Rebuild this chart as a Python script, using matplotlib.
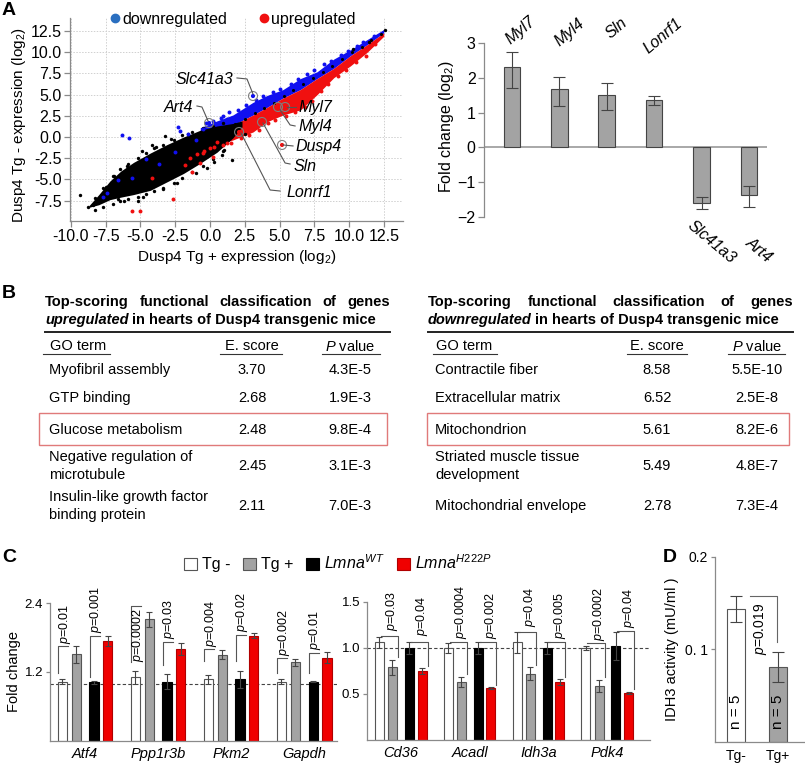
import matplotlib
matplotlib.use("Agg")
import matplotlib.pyplot as plt
import numpy as np
from matplotlib.lines import Line2D
from matplotlib.patches import Patch, Rectangle

plt.rcParams["font.family"] = ["Liberation Sans", "DejaVu Sans"]
plt.rcParams["mathtext.fontset"] = "custom"
plt.rcParams["mathtext.rm"] = "Liberation Sans"
plt.rcParams["mathtext.it"] = "Liberation Sans:italic"
plt.rcParams["mathtext.bf"] = "Liberation Sans:bold"

W, H = 805, 765
BLUE = "#1010f0"
RED = "#f01010"
GREY_AX = "#8a8a8a"

# ---------------- panel A, scatter ----------------
cloud_x = [-8.7, -8.0, -7.2, -6.4, -5.5, -4.3, -3.1, -1.9, -0.7, 0.5, 1.65, 2.3]
cloud_hi = [-8.1, -6.8, -5.2, -4.0, -3.0, -1.9, -0.9, 0.0, 0.8, 1.3, 1.6, 1.9]
cloud_lo = [-8.3, -8.0, -7.4, -7.1, -6.8, -6.3, -5.3, -4.3, -3.1, -1.8, -0.1, 1.2]

band_x = [-0.7, 0.5, 1.65, 3.1, 4.1, 5.25, 6.5, 7.7, 8.9, 10.1, 11.3, 12.5]
blue_hi = [1.1, 1.9, 2.6, 4.1, 4.9, 5.6, 6.9, 7.7, 9.2, 10.3, 11.5, 12.7]
band_mid = [0.0, 0.7, 1.4, 2.6, 3.5, 4.6, 5.6, 6.9, 8.1, 9.6, 10.9, 12.3]
red_lo = [-1.5, -0.9, -0.35, 0.6, 1.8, 2.6, 3.2, 5.0, 7.0, 8.4, 10.0, 11.9]

mid_x = [1.8, 2.5, 3.2, 3.9, 4.6, 5.3, 6.0, 6.7, 7.4, 8.1, 8.8, 9.5, 10.2, 10.9, 11.6, 12.3]
mid_y = [1.5, 2.1, 2.8, 3.4, 4.0, 4.8, 5.5, 6.2, 7.0, 7.7, 8.4, 9.2, 10.0, 10.6, 11.5, 12.2]

# speckles along the edges of the dense cloud
edge_x = [-8.3, -7.7, -7.0, -6.5, -5.9, -5.2, -4.6, -4.0, -3.4, -2.6, -2.0, -1.3, -0.5, 0.2, 0.9]
edge_hi = [-7.2, -6.0, -4.6, -3.8, -3.2, -2.5, -1.9, -1.3, -0.9, -0.4, 0.2, 0.6, 1.1, 1.3, 1.6]
edge_lo = [-8.6, -8.3, -7.9, -7.6, -7.3, -7.1, -6.7, -6.4, -6.0, -5.4, -4.9, -4.1, -3.4, -2.6, -1.6]

blk_x = [-9.35, -8.8, -8.45, -8.1, -7.9, -7.5, -6.9, -6.0, -4.9, -4.2, -3.25, -2.8, -1.6,
         -6.2, -4.8, -3.4, -2.4, -1.0, 0.3, 1.0, -0.2, -5.2, 1.6, 0.86, 2.5, -7.6, -6.6,
         -3.9, 12.6, 10.3, 11.4]
blk_y = [-6.85, -8.3, -8.0, -7.6, -7.3, -5.9, -4.6, -3.4, -1.6, -0.9, 0.1, -0.2, 0.3,
         -7.5, -7.1, -6.2, -5.4, -4.2, -2.9, -1.5, -3.7, -7.6, -2.7, -2.1, 0.3, -6.9, -7.3,
         -1.2, 12.6, 10.4, 11.2]

blu_x = [-6.3, -5.8, -2.3, -2.15, -6.6, -5.6, -3.65, -2.5, -7.7, -7.4, -1.0, -0.5, 0.3,
         0.8, 1.2, -4.6, -1.6,
         -0.3, 0.2, 0.9, 1.4, 2.0, 2.6, 3.3, 3.8, 4.5, 5.0, 5.8, 6.3, 7.0, 7.5, 8.2, 8.7,
         9.4, 9.9, 10.6, 11.0, 11.8]
blu_y = [0.25, -0.1, 1.2, 0.7, -5.1, -4.85, -3.2, -1.8, -7.1, -6.6, -0.3, 0.9, 1.6,
         2.3, 2.1, -2.6, 0.4,
         1.6, 1.9, 2.5, 2.9, 3.2, 3.8, 4.4, 4.8, 5.3, 5.7, 6.3, 6.9, 7.4, 7.9, 8.6, 9.0,
         9.7, 10.1, 10.8, 11.2, 11.9]

red_x = [-2.66, -5.6, -5.04, -4.17, -1.44, -1.3, -0.72, 0.22, -0.5, 0.0, 0.5, 1.2, 2.16,
         3.38, 3.1, -0.9, -1.8,
         -0.4, 0.3, 0.9, 1.5, 2.2, 2.8, 3.5, 4.2, 4.7, 5.5, 6.1, 6.8, 7.3, 8.0, 8.5, 9.2,
         9.8, 10.5, 11.2, 11.9]
red_y = [-7.32, -8.74, -8.74, -4.84, -2.48, -4.13, -3.07, -2.36, -1.9, -1.3, -0.59, -0.71,
         0.24, 1.18, 1.77, -2.0, -3.3,
         -1.6, -1.2, -0.9, -0.7, -0.1, 0.2, 0.8, 1.6, 2.0, 2.5, 2.9, 3.5, 4.3, 5.4, 6.2, 7.2,
         7.9, 8.8, 9.6, 11.0]

ann_label = ["Slc41a3", "Art4", "Myl7", "Myl4", "Dusp4", "Sln", "Lonrf1"]
ann_gx = [3.09, -0.07, 5.4, 4.89, 5.18, 3.74, 2.09]
ann_gy = [4.84, 1.65, 3.54, 3.54, -0.94, 1.77, 0.59]
ann_down = [True, True, False, False, False, False, False]

# label anchor and leader path (layout only)
ann_tx = [1.65, -1.22, 6.33, 6.33, 6.12, 6.04, 5.47]
ann_ty = [6.73, 3.54, 3.54, 1.18, -1.18, -3.54, -6.61]
ann_ha = ["right", "right", "left", "left", "left", "left", "left"]
ann_path = [
    [(1.94, 6.97), (2.66, 6.85), (3.09, 5.08)],
    [(-0.94, 3.66), (-0.58, 3.54), (-0.14, 1.89)],
    [(5.54, 3.54), (6.2, 3.54)],
    [(5.04, 3.19), (5.76, 1.42), (6.12, 1.3)],
    [(5.25, -0.94), (5.97, -1.06)],
    [(3.81, 1.65), (5.4, -3.07), (5.76, -3.19)],
    [(2.23, 0.47), (4.32, -6.26), (5.04, -6.38)],
]

# ---------------- panel A, qPCR bars ----------------
a_genes = ["Myl7", "Myl4", "Sln", "Lonrf1", "Slc41a3", "Art4"]
a_fc = [2.32, 1.68, 1.52, 1.36, -1.60, -1.38]
a_lo = [1.72, 1.18, 1.08, 1.22, -1.77, -1.72]
a_hi = [2.74, 2.03, 1.84, 1.48, -1.43, -1.10]
a_lab_dx = [0.02, 0.04, 0.13, -0.08, -0.15, 0.08]
a_lab_y = [2.89, 2.83, 3.06, 2.63, -2.02, -2.5]

# ---------------- panel B tables ----------------
up_terms = ["Myofibril assembly", "GTP binding", "Glucose metabolism",
            "Negative regulation of\nmicrotubule", "Insulin-like growth factor\nbinding protein"]
up_escore = ["3.70", "2.68", "2.48", "2.45", "2.11"]
up_pval = ["4.3E-5", "1.9E-3", "9.8E-4", "3.1E-3", "7.0E-3"]
down_terms = ["Contractile fiber", "Extracellular matrix", "Mitochondrion",
              "Striated muscle tissue\ndevelopment", "Mitochondrial envelope"]
down_escore = ["8.58", "6.52", "5.61", "5.49", "2.78"]
down_pval = ["5.5E-10", "2.5E-8", "8.2E-6", "4.8E-7", "7.3E-4"]

# ---------------- panel C ----------------
cl_genes = ["Atf4", "Ppp1r3b", "Pkm2", "Gapdh"]
cl_tgneg = [1.03, 1.11, 1.07, 1.03]
cl_tgneg_err = [0.04, 0.11, 0.07, 0.04]
cl_tgpos = [1.51, 2.12, 1.50, 1.37]
cl_tgpos_err = [0.15, 0.13, 0.08, 0.06]
cl_wt = [1.02, 1.03, 1.07, 1.03]
cl_wt_err = [0.03, 0.13, 0.15, 0.01]
cl_h222p = [1.74, 1.60, 1.83, 1.45]
cl_h222p_err = [0.09, 0.10, 0.04, 0.09]
cl_p_tg = ["0.01", "0.0002", "0.004", "0.002"]
cl_p_lmna = ["0.001", "0.03", "0.02", "0.01"]

cr_genes = ["Cd36", "Acadl", "Idh3a", "Pdk4"]
cr_tgneg = [1.065, 1.00, 1.06, 1.00]
cr_tgneg_err = [0.06, 0.05, 0.11, 0.02]
cr_tgpos = [0.79, 0.63, 0.72, 0.59]
cr_tgpos_err = [0.08, 0.05, 0.07, 0.065]
cr_wt = [1.00, 1.00, 1.00, 1.02]
cr_wt_err = [0.07, 0.06, 0.06, 0.15]
cr_h222p = [0.75, 0.565, 0.63, 0.51]
cr_h222p_err = [0.03, 0.015, 0.03, 0.01]
cr_p_tg = ["0.03", "0.0004", "0.04", "0.0002"]
cr_p_lmna = ["0.04", "0.002", "0.005", "0.04"]

# bracket heights (top, lower end, text start) - layout
cl_br_tg = [(1.65, 1.18, 1.69), (2.35, 1.37, 1.37), (1.60, 1.39, 1.64), (1.44, 1.18, 1.48)]
cl_br_lmna = [(1.83, 1.11, 1.88), (1.72, 1.32, 1.77), (1.84, 1.40, 1.90), (1.53, 1.18, 1.58)]
cr_br_tg = [(1.13, 0.90, 1.18), (1.06, 0.72, 1.10), (1.17, 0.82, 1.23), (1.05, 0.68, 1.08)]
cr_br_lmna = [(1.07, 0.80, 1.13), (1.07, 0.60, 1.10), (1.07, 0.69, 1.10), (1.18, 0.55, 1.22)]

# ---------------- panel D ----------------
d_groups = ["Tg-", "Tg+"]
d_vals = [0.143, 0.081]
d_err = [0.014, 0.016]
d_n = ["n = 5", "n = 5"]


def px_axes(fig, left, top, right, bottom):
    ax = fig.add_axes([left / W, 1 - bottom / H, (right - left) / W, (bottom - top) / H])
    ax.set_facecolor("none")
    return ax


def grey_spines(ax):
    for s in ["top", "right"]:
        ax.spines[s].set_visible(False)
    for s in ["left", "bottom"]:
        ax.spines[s].set_color(GREY_AX)
        ax.spines[s].set_linewidth(0.9)
    ax.tick_params(color=GREY_AX, width=0.9)


def pv(s):
    return r"$p$=" + s


fig = plt.figure(figsize=(W / 100, H / 100), dpi=100)
renderer = fig.canvas.get_renderer()

# overlay in pixel coordinates for tables and panel letters
ov = fig.add_axes([0, 0, 1, 1])
ov.set_xlim(0, W)
ov.set_ylim(H, 0)
ov.axis("off")
ov.patch.set_visible(False)

for letter, x, y in [("A", 9, 10), ("B", 9, 293), ("C", 9, 557), ("D", 670, 557)]:
    ov.text(x, y, letter, fontsize=14, fontweight="bold", ha="center", va="center")

# ---- A scatter ----
ax = px_axes(fig, 70, 18, 403, 221)
ax.set_xlim(-10.07, 13.88)
ax.set_ylim(-9.92, 14.05)
ax.set_axisbelow(True)
ax.grid(True, ls=(0, (1.5, 1.5)), color="#d0d0d0", lw=0.7)
ax.fill_between(band_x, band_mid, blue_hi, color=BLUE, lw=0, zorder=2)
ax.fill_between(band_x, red_lo, band_mid, color=RED, lw=0, zorder=2)
ax.fill_between(cloud_x, cloud_lo, cloud_hi, color="black", lw=0, zorder=3)
ax.scatter(edge_x, edge_hi, s=6, color="black", lw=0, zorder=3)
ax.scatter(edge_x, edge_lo, s=6, color="black", lw=0, zorder=3)
ax.scatter(mid_x, mid_y, s=5, color="black", lw=0, zorder=3)
ax.scatter(blk_x, blk_y, s=6, color="black", lw=0, zorder=3)
ax.scatter(blu_x, blu_y, s=8, color=BLUE, lw=0, zorder=4)
ax.scatter(red_x, red_y, s=8, color=RED, lw=0, zorder=4)
ax.scatter(ann_gx, ann_gy, s=9, color=[BLUE if d else RED for d in ann_down], lw=0, zorder=5)
ax.scatter(ann_gx, ann_gy, s=42, facecolors="none", edgecolors="#808080", lw=0.8, zorder=5)
for lab, tx, ty, ha, path in zip(ann_label, ann_tx, ann_ty, ann_ha, ann_path):
    px, py = zip(*path)
    ax.plot(px, py, color="#555555", lw=0.8, zorder=5)
    ax.text(tx, ty, lab, ha=ha, va="center", fontsize=11.5, style="italic", zorder=6)
ax.set_xticks(np.arange(-10, 12.6, 2.5))
ax.set_yticks(np.arange(-7.5, 12.6, 2.5))
ax.set_xticklabels([f"{v:.1f}" for v in np.arange(-10, 12.6, 2.5)])
ax.set_yticklabels([f"{v:.1f}" for v in np.arange(-7.5, 12.6, 2.5)])
grey_spines(ax)
ax.tick_params(labelsize=11.5, length=4, pad=2)
ax.set_xlabel("Dusp4 Tg + expression (log$_2$)", fontsize=11)
ax.set_ylabel("Dusp4 Tg - expression (log$_2$)", fontsize=11)
ax.xaxis.set_label_coords(0.5, -0.135)
ax.yaxis.set_label_coords(-0.125, 0.47)
ax.legend(
    handles=[Line2D([], [], marker="o", ls="", color="#2a6fc0", ms=6),
             Line2D([], [], marker="o", ls="", color=RED, ms=6)],
    labels=["downregulated", "upregulated"], ncol=2, loc="upper left",
    bbox_to_anchor=(0.12, 1.03), frameon=False, fontsize=11.5, handlelength=0.6,
    handletextpad=0.15, columnspacing=2.0, borderpad=0, borderaxespad=0,
)

# ---- A bars ----
ax = px_axes(fig, 484, 43, 767, 217)
xa = np.arange(len(a_genes))
ax.bar(xa, a_fc, 0.35, color="#a3a3a3", edgecolor="#444444", lw=0.8, zorder=2,
       yerr=[np.array(a_fc) - np.array(a_lo), np.array(a_hi) - np.array(a_fc)],
       error_kw=dict(ecolor="#444444", elinewidth=0.8, capsize=4, capthick=0.8))
ax.axhline(0, color="#9a9a9a", lw=1.2, zorder=1)
ax.set_xlim(-0.59, 5.38)
ax.set_ylim(-2, 3)
ax.set_yticks([-2, -1, 0, 1, 2, 3])
ax.set_xticks([])
grey_spines(ax)
ax.spines["bottom"].set_visible(False)
ax.tick_params(labelsize=11.5, length=4, pad=2)
ax.set_ylabel("Fold change (log$_2$)", fontsize=11.5)
ax.yaxis.set_label_coords(-0.1, 0.52)
for i, g in enumerate(a_genes):
    if a_fc[i] > 0:
        ax.text(i + a_lab_dx[i], a_lab_y[i], g, rotation=40, ha="left", va="bottom",
                rotation_mode="anchor", style="italic", fontsize=11.5, clip_on=False)
    else:
        ax.text(i + a_lab_dx[i], a_lab_y[i], g, rotation=-40, ha="left", va="top",
                rotation_mode="anchor", style="italic", fontsize=11.5, clip_on=False)


# ---- B tables ----
def text_w(t):
    return t.get_window_extent(renderer=renderer).width


def draw_table(x0, x1, first, terms, escores, pvals, cols, under, box):
    y1, y2 = 302, 320
    words = ["Top-scoring", "functional", "classification", "of", "genes"]
    objs = [ov.text(0, y1, w, fontsize=10.5, fontweight="bold", va="center", ha="left")
            for w in words]
    widths = [text_w(t) for t in objs]
    gap = (x1 - x0 - sum(widths)) / (len(words) - 1)
    x = x0
    for t, w in zip(objs, widths):
        t.set_x(x)
        x += w + gap
    t = ov.text(x0, y2, first, fontsize=10.5, fontweight="bold", style="italic",
                va="center", ha="left")
    ov.text(x0 + text_w(t) + 3.5, y2, "in hearts of Dusp4 transgenic mice", fontsize=10.5,
            fontweight="bold", va="center", ha="left")
    ov.plot([x0, x1], [332, 332], color="#222222", lw=1.4)
    ov.text(cols[0] + 1, 346, "GO term", fontsize=10.5, va="center", ha="left")
    ov.text(cols[1], 346, "E. score", fontsize=10.5, va="center", ha="center")
    ov.text(cols[2], 346, "$P$ value", fontsize=10.5, va="center", ha="center")
    for a, b in under:
        ov.plot([a, b], [354, 354], color="#333333", lw=0.8)
    for yy, term, e, p in zip([370, 398, 430, 466, 506], terms, escores, pvals):
        ov.text(cols[0], yy, term, fontsize=10.5, va="center", ha="left", linespacing=1.3)
        ov.text(cols[1], yy, e, fontsize=10.5, va="center", ha="center")
        ov.text(cols[2], yy, p, fontsize=10.5, va="center", ha="center")
    ov.add_patch(Rectangle((box[0], 413), box[1] - box[0], 32, fill=False,
                           edgecolor="#e07a7a", lw=1.0))


draw_table(45, 390, "upregulated", up_terms, up_escore, up_pval,
           [49, 252, 350], [(43, 110), (220, 282), (322, 380)], (39, 387))
draw_table(428, 793, "downregulated", down_terms, down_escore,
           down_pval, [435, 657, 757], [(433, 497), (627, 687), (728, 785)], (427, 789))

# ---- C ----
OFFS = [-0.31, -0.12, 0.125, 0.31]
BW = 0.13
C_FACE = ["white", "#a3a3a3", "black", "#f00000"]
C_EDGE = ["#555555", "#555555", "black", "#b00000"]


def draw_c(ax, genes, series, errs, p_tg, p_lmna, br_tg, br_lmna, style):
    x = np.arange(len(genes))
    for k in range(4):
        ax.bar(x + OFFS[k], series[k], BW, color=C_FACE[k], edgecolor=C_EDGE[k], lw=0.8,
               zorder=2, yerr=errs[k],
               error_kw=dict(ecolor="#444444", elinewidth=0.8, capsize=2.5, capthick=0.8,
                             zorder=3))
    ax.axhline(1.0, color="#444444", lw=0.8, ls=(0, (3, 2)), zorder=1)
    for i in range(len(genes)):
        for (b1, b2), p, (top, low, ty) in [((OFFS[0], OFFS[1]), p_tg[i], br_tg[i]),
                                             ((OFFS[2], OFFS[3]), p_lmna[i], br_lmna[i])]:
            b1 += i
            b2 += i
            if style == "left":
                ax.plot([b1 - 0.06, b1 - 0.06, b1 + 0.08], [low, top, top],
                        color="#555555", lw=0.8, zorder=4)
                tx = b1 + 0.03
            else:
                ax.plot([b1 + 0.02, b2 + 0.08, b2 + 0.08], [top, top, low],
                        color="#555555", lw=0.8, zorder=4)
                tx = b2
            ax.text(tx, ty, pv(p), rotation=90, ha="center", va="bottom", fontsize=9,
                    zorder=5, clip_on=False)
    ax.set_xticks(x)
    ax.set_xticklabels(genes, style="italic", fontsize=10.5)
    grey_spines(ax)
    ax.tick_params(axis="x", length=0, pad=4)
    ax.tick_params(axis="y", labelsize=9.5, length=3, pad=2)


ax = px_axes(fig, 50, 603, 337, 741)
draw_c(ax, cl_genes, [cl_tgneg, cl_tgpos, cl_wt, cl_h222p],
       [cl_tgneg_err, cl_tgpos_err, cl_wt_err, cl_h222p_err],
       cl_p_tg, cl_p_lmna, cl_br_tg, cl_br_lmna, "left")
ax.set_xlim(-0.48, 3.45)
ax.set_ylim(0, 2.4)
ax.set_yticks([1.2, 2.4])
ax.set_ylabel("Fold change", fontsize=10.5)
ax.yaxis.set_label_coords(-0.1, 0.5)

ax = px_axes(fig, 367, 602, 650, 740)
draw_c(ax, cr_genes, [cr_tgneg, cr_tgpos, cr_wt, cr_h222p],
       [cr_tgneg_err, cr_tgpos_err, cr_wt_err, cr_h222p_err],
       cr_p_tg, cr_p_lmna, cr_br_tg, cr_br_lmna, "right")
ax.set_xlim(-0.49, 3.62)
ax.set_ylim(0, 1.5)
ax.set_yticks([0.5, 1.0, 1.5])

fig.legend(
    handles=[Patch(facecolor=f, edgecolor=e, lw=0.8) for f, e in zip(C_FACE, C_EDGE)],
    labels=["Tg -", "Tg +", "$Lmna^{WT}$", "$Lmna^{H222P}$"],
    loc="center", bbox_to_anchor=(338 / W, 1 - 563 / H), ncol=4, frameon=False,
    fontsize=11.5, handlelength=0.8, handleheight=0.8, handletextpad=0.3,
    columnspacing=0.8, borderpad=0,
)

# ---- D ----
ax = px_axes(fig, 715, 557, 805, 742)
xd = np.arange(len(d_groups))
ax.bar(xd, d_vals, 0.43, color=["white", "#a3a3a3"], edgecolor="#555555", lw=0.8,
       yerr=d_err, zorder=2,
       error_kw=dict(ecolor="#444444", elinewidth=0.8, capsize=4, capthick=0.8))
for i, n in enumerate(d_n):
    ax.text(i, 0.032, n, rotation=90, ha="center", va="center", fontsize=11)
ax.plot([0.33, 0.98, 0.98], [0.157, 0.157, 0.1075], color="#666666", lw=0.8)
ax.text(0.57, 0.094, pv("0.019"), rotation=90, ha="center", va="bottom", fontsize=10)
ax.set_xlim(-0.5, 1.64)
ax.set_ylim(0, 0.199)
ax.set_yticks([0.1, 0.199])
ax.set_yticklabels(["0. 1", "0.2"])
ax.set_xticks(xd)
ax.set_xticklabels(d_groups)
grey_spines(ax)
ax.tick_params(axis="x", length=0, pad=5, labelsize=10)
ax.tick_params(axis="y", length=3, pad=2, labelsize=10)
ax.set_ylabel("IDH3 activity (mU/ml )", fontsize=10.5)
ax.yaxis.set_label_coords(-0.4, 0.5)

fig.savefig("out.png", dpi=100)
